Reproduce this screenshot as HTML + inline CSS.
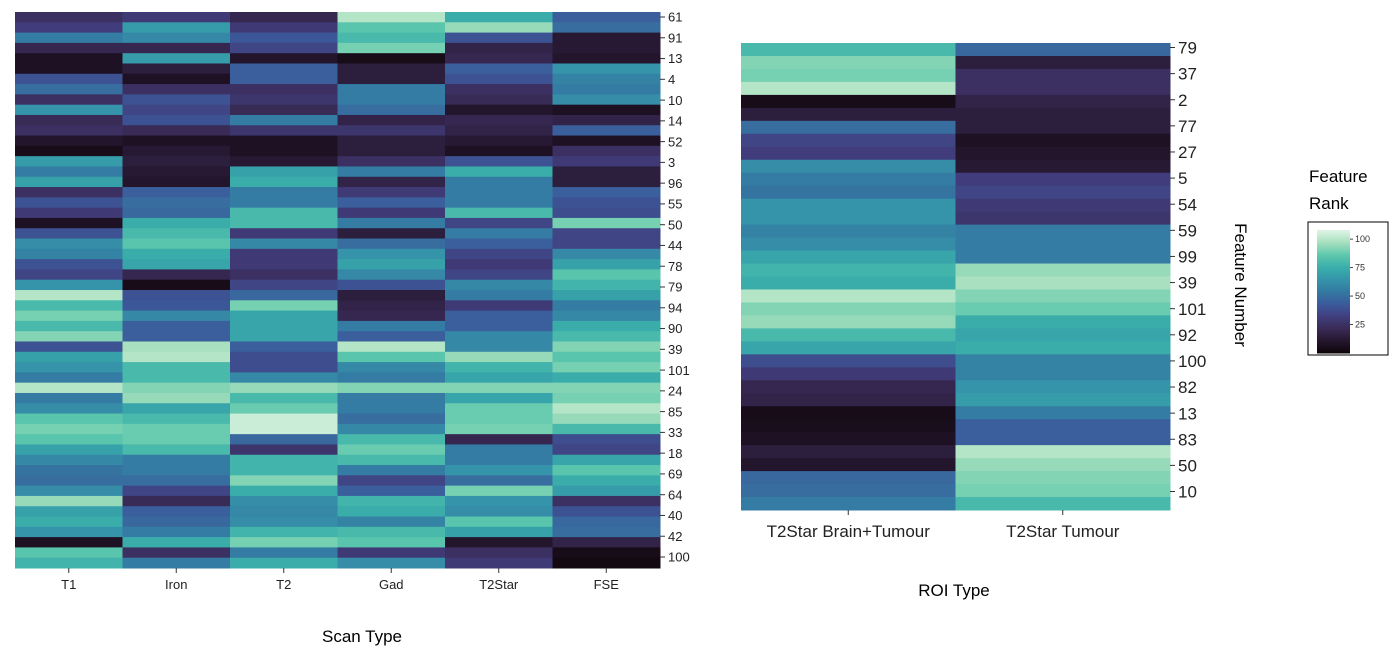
<!DOCTYPE html>
<html><head><meta charset="utf-8">
<style>
html,body{margin:0;padding:0;background:#fff;}
svg{display:block;font-family:"Liberation Sans",sans-serif;}
</style></head>
<body>
<svg id="chart" width="1399" height="660" viewBox="0 0 1399 660">
<g id="left"></g>
<g id="right"></g>
<g id="cbar"></g>
<text x="362" y="642" text-anchor="middle" font-size="17">Scan Type</text>
<text x="954" y="596" text-anchor="middle" font-size="17">ROI Type</text>
<text transform="translate(1235,285) rotate(90)" text-anchor="middle" font-size="17">Feature Number</text>
<text x="1309" y="182" font-size="17">Feature</text>
<text x="1309" y="209" font-size="17">Rank</text>
</svg>
<script>
const leftCats = ["T1","Iron","T2","Gad","T2Star","FSE"];
const leftLabels = ["61","91","13","4","10","14","52","3","96","55","50","44","78","79","94","90","39","101","24","85","33","18","69","64","40","42","100"];
const valT1 = [25,32,55,20,8,8,40,50,25,65,22,25,10,5,68,55,70,25,40,30,8,40,62,58,40,35,65,100,80,90,80,92,40,70,65,55,100,55,62,85,90,85,70,60,52,50,62,95,70,75,65,8,85,78];
const valIron = [30,68,60,20,68,15,8,25,40,35,40,22,8,12,15,12,10,45,50,48,75,80,85,75,72,20,5,40,42,60,45,45,98,100,80,80,92,95,72,80,88,88,80,55,55,50,35,22,45,48,55,75,25,55];
const valT2 = [20,30,42,35,10,45,45,25,28,22,55,28,8,8,12,70,75,55,55,80,80,30,60,30,30,25,35,48,90,72,72,72,45,38,38,60,95,80,88,104,104,48,28,78,78,92,75,62,60,62,78,90,55,75];
const valGad = [100,85,80,90,5,15,15,55,55,50,18,28,15,15,25,55,18,30,45,30,55,15,50,65,70,60,40,15,18,20,55,45,100,85,60,55,92,55,55,50,60,80,88,80,55,35,45,78,75,58,80,85,30,62];
const valT2Star = [75,95,40,18,20,45,40,25,22,10,20,18,12,8,40,75,55,55,55,80,35,55,45,35,30,35,60,55,30,45,45,60,60,95,78,72,92,72,88,88,90,20,55,55,65,50,90,65,62,85,70,10,25,30];
const valFSE = [45,50,12,12,10,65,58,55,62,8,18,45,8,25,30,15,15,45,40,38,90,35,35,60,70,85,78,70,55,60,75,80,92,85,90,75,92,90,100,95,80,38,35,72,85,75,68,25,40,48,50,18,5,3];
const leftVals = [valT1,valIron,valT2,valGad,valT2Star,valFSE];

const rightCats = ["T2Star Brain+Tumour","T2Star Tumour"];
const rightLabels = ["79","37","2","77","27","5","54","59","99","39","101","92","100","82","13","83","50","10"];
const valBrainTumour = [80,92,90,100,5,15,50,35,32,62,55,52,65,65,58,62,72,78,75,100,92,95,80,72,38,30,20,18,5,6,8,15,10,48,50,55];
const valTumour = [48,15,25,25,18,15,15,8,10,12,32,35,30,28,55,55,55,95,98,92,88,75,72,75,58,58,65,68,55,45,45,100,95,92,90,80];
const rightVals = [valBrainTumour,valTumour];

const cbTicks = [25,50,75,100];
const VMAX = 108;
const stops = [[0,[11,4,5]],[0.1,[37,22,47]],[0.2,[56,42,84]],[0.3,[65,62,126]],[0.4,[59,90,155]],[0.5,[52,121,162]],[0.6,[53,148,170]],[0.7,[58,174,171]],[0.8,[94,200,173]],[0.9,[165,223,189]],[1,[222,245,229]]];
function cmap(v){
  let t=Math.max(0,Math.min(1,v/VMAX));
  for(let i=1;i<stops.length;i++){
    if(t<=stops[i][0]){
      const a=stops[i-1],b=stops[i],f=(t-a[0])/(b[0]-a[0]);
      const c=a[1].map((x,k)=>Math.round(x+(b[1][k]-x)*f));
      return `rgb(${c[0]},${c[1]},${c[2]})`;
    }
  }
  return 'rgb(222,245,229)';
}
const NS="http://www.w3.org/2000/svg";
function mk(tag,attrs,parent){const e=document.createElementNS(NS,tag);for(const k in attrs)e.setAttribute(k,attrs[k]);parent.appendChild(e);return e;}

function heatmap(g,cats,vals,labels,box,opt){
  const nR=vals[0].length, nC=cats.length;
  const cw=(box.x1-box.x0)/nC, rh=(box.y1-box.y0)/nR;
  const xS=c=>box.x0+c*cw, yS=r=>box.y0+r*rh;
  vals.forEach((col,c)=>{
    col.forEach((v,r)=>{
      const rect=mk('rect',{x:xS(c),y:yS(r),width:cw+0.5,height:rh+0.5,fill:cmap(v)},g);
      
      
    });
  });
  const labStep=(opt.labLast-opt.lab0)/(labels.length-1);
  labels.forEach((l,i)=>{
    const y=opt.lab0+i*labStep;
    const tk=mk('line',{x1:box.x1,x2:box.x1+5,y1:y,y2:y,stroke:'#333','stroke-width':1},g);
    
    
    const t=mk('text',{x:box.x1+8,y:y+opt.fs*0.36,'font-size':opt.fs,fill:'#222'},g);
    t.textContent=l;
    
    
  });
  cats.forEach((c,i)=>{
    const x=xS(i)+cw/2;
    const tk=mk('line',{x1:x,x2:x,y1:box.y1,y2:box.y1+5,stroke:'#333','stroke-width':1},g);
    
    
    const t=mk('text',{x:x,y:box.y1+opt.xly,'font-size':opt.xfs,'text-anchor':'middle',fill:'#222'},g);
    t.textContent=c;
    
    
  });
}
heatmap(document.getElementById('left'),leftCats,leftVals,leftLabels,{x0:15,x1:660,y0:12,y1:568},{lab0:17,labLast:557,fs:13,xfs:13,xly:21});
heatmap(document.getElementById('right'),rightCats,rightVals,rightLabels,{x0:741,x1:1170,y0:43,y1:510},{lab0:47.5,labLast:491.5,fs:17,xfs:17,xly:27});

const cb=document.getElementById('cbar');
const frame=mk('rect',{x:1308,y:222,width:80,height:133,fill:'#fff',stroke:'#000','stroke-width':1},cb);


const cbx=1317,cbw=33,cby0=230,cby1=353;
const cbY=v=>cby1-(v/VMAX)*(cby1-cby0);
for(let i=0;i<60;i++){
  const v0=i*VMAX/60, v1=(i+1)*VMAX/60;
  const r=mk('rect',{x:cbx,y:cbY(v1),width:cbw,height:cbY(v0)-cbY(v1)+0.5,fill:cmap((v0+v1)/2)},cb);
  
  
}
cbTicks.forEach(v=>{
  const y=cbY(v);
  const l=mk('line',{x1:cbx+cbw,x2:cbx+cbw+3,y1:y,y2:y,stroke:'#444'},cb);
  
  
  const t=mk('text',{x:cbx+cbw+5,y:y+3,'font-size':9,fill:'#333'},cb);
  t.textContent=v;
  
  
});
</script>
</body></html>
